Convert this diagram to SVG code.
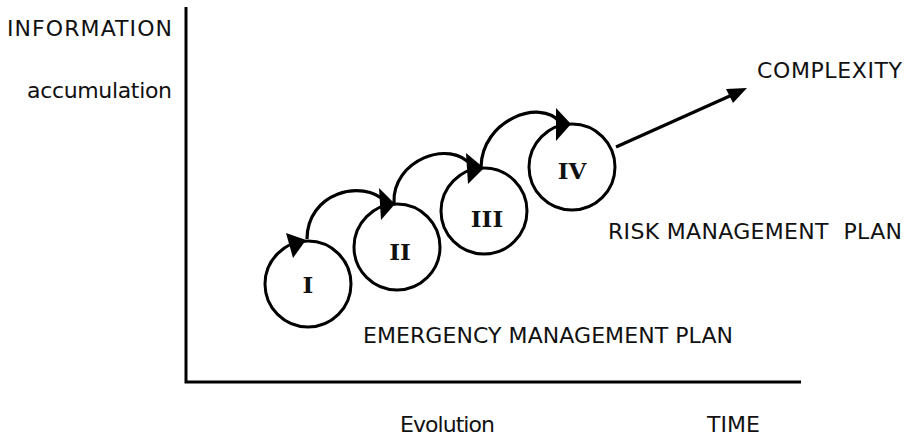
<svg xmlns="http://www.w3.org/2000/svg" width="910" height="438" viewBox="0 0 910 438">
  <style>
    .lbl { font-family: "DejaVu Sans", Verdana, sans-serif; font-size: 22px; fill: #111; white-space: pre; }
    .num { font-family: "DejaVu Serif", "Liberation Serif", serif; font-size: 23px; font-weight: bold; fill: #111; text-anchor: middle; }
    .ring { fill: none; stroke: #000; stroke-width: 3; }
    .link { fill: none; stroke: #000; stroke-width: 3.2; }
    .head { fill: #000; }
  </style>
  <rect width="910" height="438" fill="#fff"/>

  <!-- axes -->
  <g id="axes" fill="none" stroke="#000" stroke-width="3">
    <path d="M186,7 V382 H801"/>
  </g>

  <!-- axis labels -->
  <g id="axis-labels">
    <text class="lbl" x="7" y="36" textLength="165">INFORMATION</text>
    <text class="lbl" x="27" y="98" textLength="145">accumulation</text>
    <text class="lbl" x="400" y="432" textLength="95">Evolution</text>
    <text class="lbl" x="707" y="432" textLength="53">TIME</text>
  </g>

  <!-- stages -->
  <g id="stage-I">
    <circle class="ring" cx="308" cy="284" r="43"/>
    <text class="num" x="308" y="293">I</text>
  </g>
  <g id="stage-II">
    <circle class="ring" cx="397" cy="247" r="43"/>
    <text class="num" x="400" y="260">II</text>
  </g>
  <g id="stage-III">
    <circle class="ring" cx="484" cy="211" r="43"/>
    <text class="num" x="487" y="227">III</text>
  </g>
  <g id="stage-IV">
    <circle class="ring" cx="572" cy="167" r="43"/>
    <text class="num" x="572" y="179">IV</text>
  </g>

  <!-- connectors -->
  <g id="connectors">
    <polygon class="head" points="286,233 306,240 293,258"/>
    <path class="link" d="M307,239 C307,193 362,178 386,202"/>
    <polygon class="head" points="379,188 395,204 381,220"/>
    <path class="link" d="M394,203 C392,160 450,138 472,166"/>
    <polygon class="head" points="466,153 484,168 468,184"/>
    <path class="link" d="M481,167 C482,120 540,98 560,122"/>
    <polygon class="head" points="556,108 571,124 556,141"/>
    <path class="link" d="M616,147 L732,95"/>
    <polygon class="head" points="747,88 733,103 726,89"/>
  </g>

  <!-- region labels -->
  <g id="labels">
    <text class="lbl" x="757" y="78" textLength="145">COMPLEXITY</text>
    <text class="lbl" x="608" y="239" textLength="294">RISK MANAGEMENT  PLAN</text>
    <text class="lbl" x="363" y="343" textLength="370">EMERGENCY MANAGEMENT PLAN</text>
  </g>
</svg>
